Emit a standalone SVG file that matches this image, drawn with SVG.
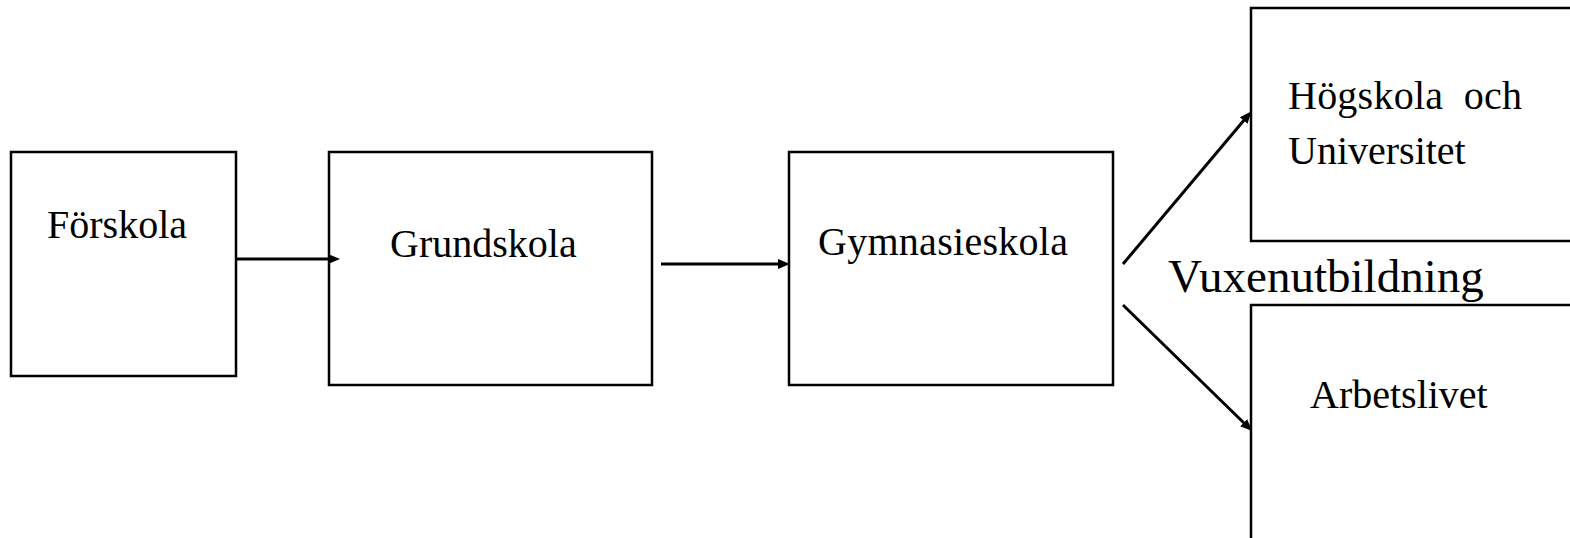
<svg xmlns="http://www.w3.org/2000/svg" width="1570" height="538" viewBox="0 0 1570 538">
<style>
.box{fill:#fff;stroke:#000;stroke-width:2.5}
.lbl{font-family:"Liberation Serif","Times New Roman",serif;font-size:40px;fill:#000}
.big{font-size:47px}
.conn{stroke:#000;stroke-width:3;fill:none}
</style>
<defs>
<marker id="ah" markerUnits="userSpaceOnUse" markerWidth="14" markerHeight="12" refX="2" refY="5" orient="auto">
<path d="M0,0 L12,5 L0,10 z" fill="#000"/>
</marker>
</defs>
<rect width="1570" height="538" fill="#fff"/>
<g id="forskola">
<rect class="box" x="11" y="152" width="225" height="224"/>
<text class="lbl" x="47" y="238">Förskola</text>
</g>
<g id="grundskola">
<rect class="box" x="329" y="152" width="323" height="233"/>
<text class="lbl" x="390" y="257">Grundskola</text>
</g>
<g id="gymnasieskola">
<rect class="box" x="789" y="152" width="324" height="233"/>
<text class="lbl" x="818" y="255" textLength="250">Gymnasieskola</text>
</g>
<g id="hogskola">
<rect class="box" x="1251" y="8" width="330" height="233"/>
<text class="lbl" x="1288" y="109" textLength="234" xml:space="preserve">Högskola  och</text>
<text class="lbl" x="1288" y="164">Universitet</text>
</g>
<g id="arbetslivet">
<rect class="box" x="1251" y="305" width="330" height="250"/>
<text class="lbl" x="1310" y="408">Arbetslivet</text>
</g>
<g id="vuxenutbildning">
<text class="lbl big" x="1168" y="292">Vuxenutbildning</text>
</g>
<g id="connectors">
<line class="conn" x1="236" y1="259" x2="330" y2="259" marker-end="url(#ah)"/>
<line class="conn" x1="661" y1="264" x2="780" y2="264" marker-end="url(#ah)"/>
<line class="conn" x1="1123" y1="264" x2="1245" y2="119" marker-end="url(#ah)"/>
<line class="conn" x1="1123" y1="305" x2="1245" y2="424" marker-end="url(#ah)"/>
</g>
</svg>
